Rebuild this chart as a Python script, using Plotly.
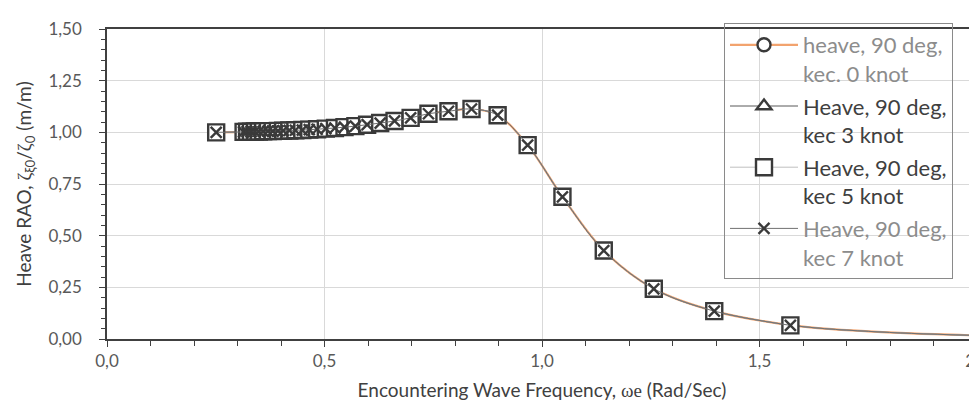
import plotly.graph_objects as go

# Encountering wave frequency (rad/s)
freq = [0.251, 0.314, 0.322, 0.331, 0.340, 0.349, 0.359, 0.370, 0.381, 0.393,
        0.405, 0.419, 0.433, 0.449, 0.465, 0.483, 0.503, 0.524, 0.546, 0.571,
        0.598, 0.628, 0.661, 0.698, 0.739, 0.785, 0.838, 0.898, 0.967, 1.047,
        1.142, 1.257, 1.396, 1.571]
# Heave RAO (all four speeds overlap on the chart)
rao = [1.000, 1.002, 1.003, 1.003, 1.004, 1.004, 1.005, 1.006, 1.006, 1.007,
       1.008, 1.009, 1.010, 1.011, 1.013, 1.015, 1.018, 1.021, 1.025, 1.030,
       1.037, 1.045, 1.055, 1.070, 1.090, 1.102, 1.113, 1.083, 0.938, 0.688,
       0.428, 0.243, 0.135, 0.066]
# smoothed line continuation beyond the last marker (no markers)
tail_freq = [1.571, 1.65, 1.75, 1.85, 2.0]
tail_rao = [0.066, 0.050, 0.037, 0.027, 0.017]

names = [
    '<span style="color:#8c8c8c">heave, 90 deg,<br>kec. 0 knot</span>',
    '<span style="color:#404040">Heave, 90 deg,<br>kec 3 knot</span>',
    '<span style="color:#404040">Heave, 90 deg,<br>kec 5 knot</span>',
    '<span style="color:#8c8c8c">Heave, 90 deg,<br>kec 7 knot</span>',
]
line_colors = ["#F2A36E", "#595959", "#BFBFBF", "#707070"]
line_widths = [2.2, 1, 1, 1]
symbols = ["circle", "triangle-up", "square", "x-thin"]
sizes = [13, 13, 16, 11]
mk = "#3a3a3a"

fig = go.Figure()
for i in range(4):
    fig.add_trace(go.Scatter(
        x=tail_freq, y=tail_rao, mode="lines", showlegend=False, hoverinfo="skip",
        line=dict(color=line_colors[i], width=line_widths[i], shape="spline")))

for i in range(4):
    if symbols[i] == "x-thin":
        marker = dict(symbol="x-thin", size=sizes[i], color=mk,
                      line=dict(color=mk, width=2.4))
    else:
        marker = dict(symbol=symbols[i], size=sizes[i], color="white",
                      line=dict(color=mk, width=2.4))
    fig.add_trace(go.Scatter(
        x=freq, y=rao, mode="lines+markers", name=names[i], legendgroup="g%d" % i,
        line=dict(color=line_colors[i], width=line_widths[i], shape="spline"),
        marker=marker))

fig.update_layout(
    width=977, height=414,
    margin=dict(l=99, r=8, t=21, b=83, autoexpand=False),
    paper_bgcolor="white", plot_bgcolor="white",
    separators=",.",
    font=dict(family="Lato, Open Sans, sans-serif", size=17, color="#595959"),
    legend=dict(
        xref="container", yref="container",
        x=716 / 977, y=1 - 15 / 414, xanchor="left", yanchor="top",
        bgcolor="rgba(255,255,255,0)", bordercolor="#8a8a8a", borderwidth=1,
        font=dict(size=22, color="#404040"), valign="top",
        itemwidth=68, tracegroupgap=1, maxheight=320,
    ),
    xaxis=dict(
        range=[0, 2], tick0=0, dtick=0.5, tickformat=".1f",
        ticklabeloverflow="allow", automargin=False,
        showgrid=True, gridcolor="#D9D9D9", gridwidth=1,
        showline=True, linecolor="#404040", linewidth=1.5, mirror=True,
        ticks="outside", ticklen=6, tickcolor="#404040",
        minor=dict(dtick=0.1, ticks="outside", ticklen=5, tickcolor="#404040", showgrid=False),
        zeroline=False,
        title=dict(
            text='Encountering Wave Frequency, <span style="font-family:Liberation Serif">ωe</span> (Rad/Sec)',
            font=dict(size=19, color="#404040"), standoff=14),
    ),
    yaxis=dict(
        range=[0, 1.5], tick0=0, dtick=0.25, tickformat=".2f",
        ticklabelstandoff=14, automargin=False,
        showgrid=True, gridcolor="#D9D9D9", gridwidth=1,
        showline=True, linecolor="#404040", linewidth=1.5, mirror=True,
        ticks="outside", ticklen=6, tickcolor="#404040",
        minor=dict(dtick=0.05, ticks="outside", ticklen=4, tickcolor="#404040", showgrid=False),
        zeroline=False,
        title=dict(
            text='Heave RAO, <span style="font-family:Liberation Serif">ζ</span><sub>ξ0</sub>/<span style="font-family:Liberation Serif">ζ</span><sub>0</sub> (m/m)',
            font=dict(size=19, color="#404040"), standoff=12),
    ),
)

fig.write_html("out.html")
